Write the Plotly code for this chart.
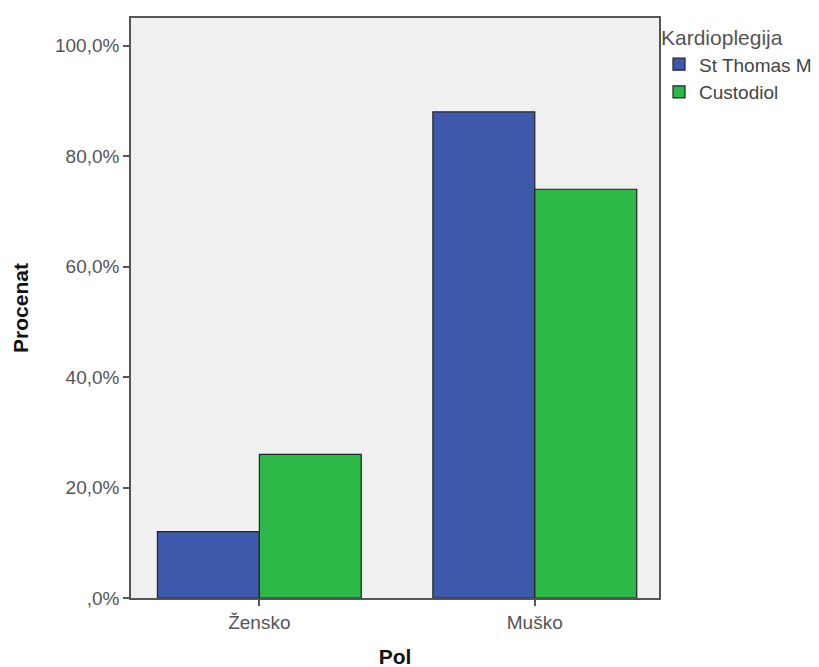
import plotly.graph_objects as go

categories = ["Žensko", "Muško"]
st_thomas = [12.0, 88.0]
custodiol = [26.0, 74.0]
tick_vals = [0, 20, 40, 60, 80, 100]
tick_text = [",0%", "20,0%", "40,0%", "60,0%", "80,0%", "100,0%"]

fig = go.Figure()
fig.add_trace(go.Bar(x=categories, y=st_thomas, name="St Thomas M",
                     marker=dict(color="#3E58AC", line=dict(color="#222222", width=1.2))))
fig.add_trace(go.Bar(x=categories, y=custodiol, name="Custodiol",
                     marker=dict(color="#2EB848", line=dict(color="#222222", width=1.2))))

fig.update_layout(
    width=819, height=667,
    margin=dict(l=123, r=165, t=10, b=77),
    paper_bgcolor="white", plot_bgcolor="#F0F0F0",
    barmode="group", bargap=0.26, bargroupgap=0,
    font=dict(family="Arial, Liberation Sans, sans-serif", size=19, color="#555555"),
    legend=dict(title=dict(text="Kardioplegija", font=dict(size=21, color="#555555")),
                x=1.0, xanchor="left", y=1.0, yanchor="top",
                font=dict(size=19, color="#444444"), tracegroupgap=0,
                bgcolor="rgba(0,0,0,0)"),
    showlegend=True,
)
fig.update_xaxes(
    range=[-0.466, 1.451], showline=True, mirror=True, linecolor="#555555", linewidth=1.5,
    ticks="outside", ticklen=6, tickcolor="#555555", tickwidth=1.5,
    title=dict(text="<b>Pol</b>", font=dict(size=21, color="#111111"), standoff=18),
    showgrid=False, zeroline=False, automargin=False,
)
fig.update_yaxes(
    range=[0, 105], tickvals=tick_vals, ticktext=tick_text,
    showline=True, mirror=True, linecolor="#555555", linewidth=1.5,
    ticks="outside", ticklen=6, tickcolor="#555555", tickwidth=1.5,
    title=dict(text="<b>Procenat</b>", font=dict(size=21, color="#111111"), standoff=21),
    showgrid=False, zeroline=False, automargin=False,
)
fig.write_html("out.html")
